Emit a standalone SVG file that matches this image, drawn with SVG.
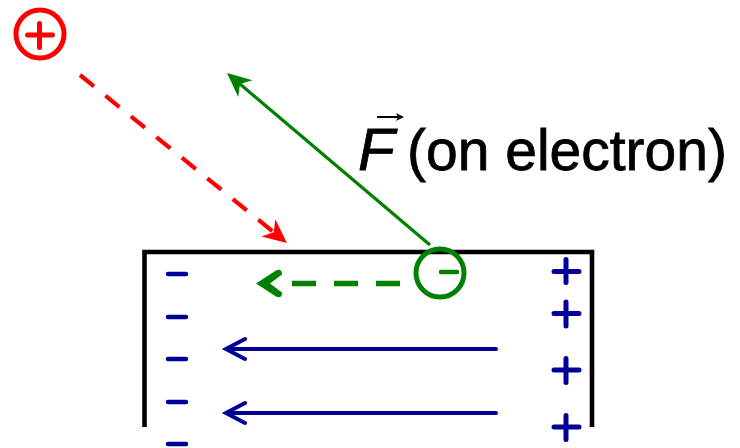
<svg xmlns="http://www.w3.org/2000/svg" width="740" height="448" viewBox="0 0 740 448">
  <style>
    .red { stroke: #ff0000; fill: none; }
    .grn { stroke: #008000; fill: none; }
    .blu { stroke: #000099; fill: none; stroke-linecap: round; }
    .txt { font-family: "Liberation Sans", Arial, sans-serif; font-size: 60px; fill: #000000; stroke: #000000; stroke-width: 0.8px; }
  </style>
  <defs>
    <marker id="headRed" markerUnits="userSpaceOnUse" orient="auto" viewBox="-8 -12 26 24" markerWidth="26" markerHeight="24" refX="0" refY="0">
      <path d="M17,0 L-7,-11 L0,0 L-7,11 Z" fill="#ff0000"/>
    </marker>
    <marker id="headGrn" markerUnits="userSpaceOnUse" orient="auto" viewBox="-8 -12 26 24" markerWidth="26" markerHeight="24" refX="0" refY="0">
      <path d="M17,0 L-7,-11 L0,0 L-7,11 Z" fill="#008000"/>
    </marker>
  </defs>

  <!-- plate -->
  <g id="plate">
    <polyline points="144.5,427 144.5,252 592,252 592,427" fill="none" stroke="#000000" stroke-width="4.6" stroke-linejoin="miter"/>
  </g>

  <!-- positive charge (red) -->
  <g id="positive-charge">
    <circle cx="40" cy="34" r="24" class="red" stroke-width="5"/>
    <path d="M27.5,35 H52.5 M39.5,23.5 V47.5" class="red" stroke-width="5" stroke-linecap="round"/>
  </g>

  <!-- electron -->
  <g id="electron">
    <circle cx="440" cy="273" r="24" class="grn" stroke-width="5"/>
    <path d="M441,272 H457" class="grn" stroke-width="4.5" stroke-linecap="round"/>
  </g>

  <!-- label -->
  <g id="label">
    <text x="358" y="170" class="txt" font-style="italic">F</text>
    <path d="M377,117 H399" stroke="#000000" stroke-width="2" fill="none"/>
    <path d="M404,117 L396,113 L398,117 L396,121 Z" fill="#000000"/>
    <text x="407" y="170" class="txt" style="font-size:57px">(on electron)</text>
  </g>

  <!-- negative surface charges -->
  <g id="minus-charges" class="blu" stroke-width="4.5">
    <path d="M168,274 H186"/>
    <path d="M168,317 H186"/>
    <path d="M168,359 H186"/>
    <path d="M168,402 H186"/>
    <path d="M168,444 H186"/>
  </g>

  <!-- positive surface charges -->
  <g id="plus-charges" class="blu" stroke-width="5">
    <path d="M554,271.5 H579 M566,259.5 V282.5"/>
    <path d="M554,313.5 H579 M566,302 V326"/>
    <path d="M554,370 H579 M566,358.5 V382.5"/>
    <path d="M554,427 H579 M566,415.5 V439.5"/>
  </g>

  <!-- connectors -->
  <g id="connectors">
    <line x1="80" y1="75" x2="273.8" y2="232.3" class="red" stroke-width="4.2" stroke-dasharray="18 14.8" marker-end="url(#headRed)"/>
    <line x1="430" y1="245" x2="240" y2="84" class="grn" stroke-width="3.2" marker-end="url(#headGrn)"/>
    <path d="M400,283.5 H292" class="grn" stroke-width="5.5" stroke-dasharray="24 18"/>
    <path d="M256,283.5 L276,270.5 Q282,268 282,274.5 L270,283.5 L282,292.5 Q282,299 276,296.5 Z" fill="#008000"/>
    <path d="M496,349 H227 M245,339 L226,349 L245,359" class="blu" stroke-width="4" stroke-linejoin="miter" stroke-linecap="butt"/>
    <path d="M496,413 H227 M245,403 L226,413 L245,423" class="blu" stroke-width="4" stroke-linejoin="miter" stroke-linecap="butt"/>
  </g>
</svg>
